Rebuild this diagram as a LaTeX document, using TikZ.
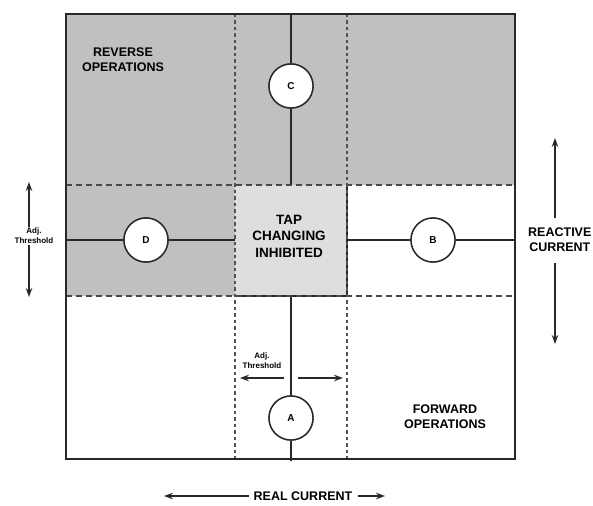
\documentclass[tikz,border=0pt]{standalone}
\usepackage{fontspec}
\setmainfont{Liberation Sans}
\usetikzlibrary{arrows.meta}
\definecolor{regiongray}{RGB}{192,192,192}
\definecolor{centergray}{RGB}{222,222,222}
\definecolor{linegray}{RGB}{40,40,40}
\tikzset{
  solidline/.style={draw=linegray, line width=1.7pt},
  dashline/.style={draw=linegray!85, line width=1.4pt, dash pattern=on 6pt off 4pt},
  dashvline/.style={draw=linegray!80, line width=1.6pt, dash pattern=on 3.5pt off 3pt},
  zone/.style={circle, draw=linegray, line width=1.4pt, fill=white, minimum size=44pt, inner sep=0pt, font=\fontsize{10}{11}\bfseries\selectfont},
  biglabel/.style={font=\fontsize{12.5}{15}\bfseries\selectfont, align=center, inner sep=1pt},
  smalllabel/.style={font=\fontsize{8}{10}\bfseries\selectfont, align=center, inner sep=1pt, fill=white},
  axisarrow/.style={draw=linegray, line width=1.6pt, -{Stealth[length=9pt,width=6.5pt]}},
}
\begin{document}
\begin{tikzpicture}[x=1pt,y=-1pt]
\useasboundingbox (0,0) rectangle (593,505);
% coordinates of the frame
\coordinate (tl) at (66,14);
\coordinate (br) at (515,459);
% shaded regions
\fill[regiongray] (66,14) rectangle (515,185);
\fill[regiongray] (66,185) rectangle (235,296);
\fill[centergray] (235,185) rectangle (347,296);
% circles
\node[zone] (C) at (291,86) {C};
\node[zone] (D) at (146,240) {D};
\node[zone] (B) at (433,240) {B};
\node[zone] (A) at (291,418) {A};
% solid line end points
\coordinate (ctop) at (291,14);
\coordinate (cbot) at (291,185);
\coordinate (atop) at (291,296);
\coordinate (abot) at (291,461);
\coordinate (dleft) at (66,240);
\coordinate (dright) at (235,240);
\coordinate (bleft) at (347,240);
\coordinate (bright) at (515,240);
\draw[solidline] (ctop) -- (C);
\draw[solidline] (C) -- (cbot);
\draw[solidline] (atop) -- (A);
\draw[solidline] (A) -- (abot);
\draw[solidline] (dleft) -- (D);
\draw[solidline] (D) -- (dright);
\draw[solidline] (bleft) -- (B);
\draw[solidline] (B) -- (bright);
% centre box edges
\draw[linegray, line width=1.6pt] (347,185) -- (347,296) -- (235,296);
% dashed lines
\draw[dashline] (66,185) -- (515,185);
\draw[dashline] (66,296) -- (515,296);
\draw[dashvline] (235,14) -- (235,459);
\draw[dashvline] (347,14) -- (347,459);
% redraw circles on top
\node[zone] at (C) {C};
\node[zone] at (D) {D};
\node[zone] at (B) {B};
\node[zone] at (A) {A};
% frame
\draw[linegray, line width=1.8pt] (tl) rectangle (br);
% labels
\node[biglabel] (rev) at (123,60) {REVERSE\\OPERATIONS};
\node[biglabel] (fwd) at (445,417) {FORWARD\\OPERATIONS};
\node[biglabel, font=\fontsize{13.5}{16.5}\bfseries\selectfont] (tap) at (289,236) {TAP\\CHANGING\\INHIBITED};
% reactive current axis
\node[biglabel, anchor=west] (react) at (527,240) {REACTIVE\\CURRENT};
\coordinate (rtop) at (555,138);
\coordinate (rbot) at (555,344);
\coordinate (rmid1) at (555,218);
\coordinate (rmid2) at (555,263);
\draw[axisarrow] (rmid1) -- (rtop);
\draw[axisarrow] (rmid2) -- (rbot);
% real current axis
\node[biglabel] (real) at (303,496) {REAL CURRENT};
\coordinate (rleft) at (164,496);
\coordinate (rright) at (385,496);
\draw[axisarrow] (real.west) ++(-4,0) -- (rleft);
\draw[axisarrow] (real.east) ++(4,0) -- (rright);
% left adj threshold
\coordinate (lmid) at (29,240);
\coordinate (ltop) at (29,182);
\coordinate (lbot) at (29,297);
\draw[axisarrow] (lmid) -- (ltop);
\draw[axisarrow] (lmid) -- (lbot);
\node[smalllabel] (ladj) at (34,236) {Adj.\\Threshold};
% bottom adj threshold
\node[smalllabel, fill=none] (badj) at (262,361) {Adj.\\Threshold};
\coordinate (bl1) at (284,378);
\coordinate (bl2) at (240,378);
\coordinate (br1) at (298,378);
\coordinate (br2) at (343,378);
\draw[axisarrow] (bl1) -- (bl2);
\draw[axisarrow] (br1) -- (br2);
\end{tikzpicture}
\end{document}
